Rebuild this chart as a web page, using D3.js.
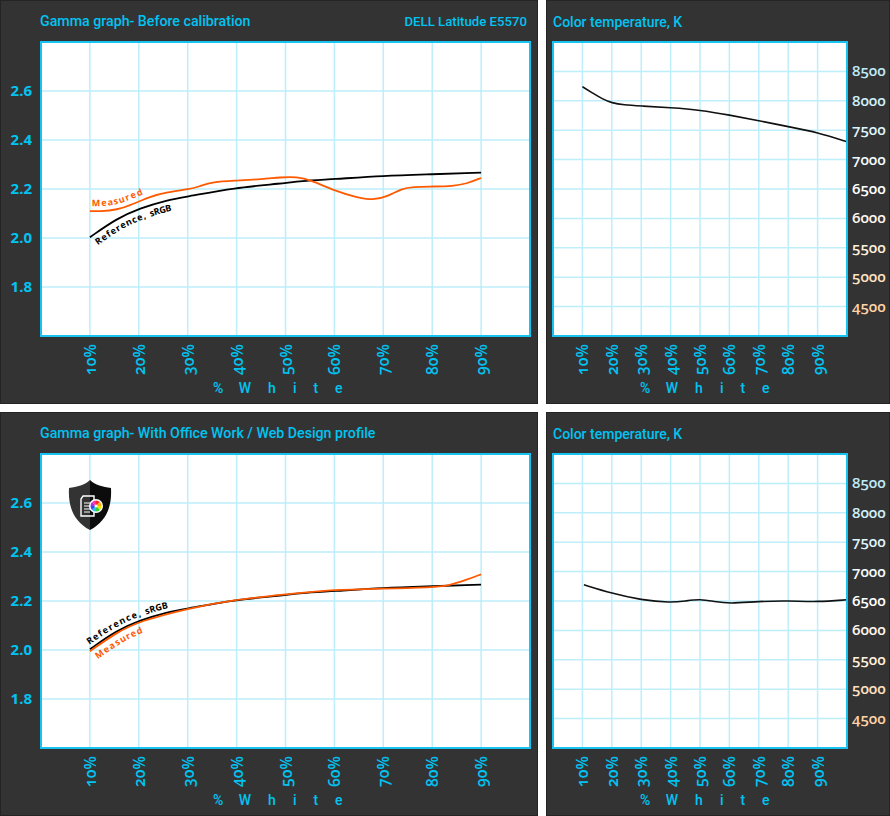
<!DOCTYPE html>
<html>
<head>
<meta charset="utf-8">
<script src="https://cdn.jsdelivr.net/npm/d3@7"></script>
<style>
  html, body { margin: 0; padding: 0; background: #fff; }
  svg { display: block; }
  text { font-family: "Open Sans", sans-serif; }
  .head { font-family: Roboto, sans-serif; }
</style>
</head>
<body>
<svg id="chart" width="890" height="816"></svg>
<script>
// values
var xTicks = [10, 20, 30, 40, 50, 60, 70, 80, 90];
var gammaTicks = [1.8, 2.0, 2.2, 2.4, 2.6];
var tempTicks = [4500, 5000, 5500, 6000, 6500, 7000, 7500, 8000, 8500];
var tempTickColors = ["#ffd2a6", "#ffe0c0", "#ffeeda", "#fff6ee", "#ffffff", "#f2fbff", "#dff5fc", "#cff0fa", "#bfeaf8"];

var refX = [10, 15.5, 20.2, 25.7, 30.5, 39.3, 49.5, 53, 59.7, 70, 80, 90];
var refGamma = [2.003, 2.08, 2.121, 2.155, 2.171, 2.204, 2.223, 2.233, 2.24, 2.254, 2.26, 2.267];

var beforeX = [10, 12, 15.5, 18.9, 22.3, 25.7, 30.5, 32.5, 35.2, 39.3, 45.4, 48.9, 52.4, 55, 60.1, 64.6, 67.9, 70.8, 73.8, 76, 80.2, 84.2, 87, 90];
var beforeGamma = [2.11, 2.109, 2.114, 2.139, 2.169, 2.187, 2.199, 2.212, 2.229, 2.234, 2.24, 2.248, 2.25, 2.237, 2.193, 2.165, 2.154, 2.169, 2.202, 2.209, 2.21, 2.212, 2.221, 2.245];

var afterX = [10, 15.5, 20.2, 30.5, 39.3, 49.5, 60, 70, 80, 83.3, 87, 90];
var afterGamma = [1.995, 2.072, 2.118, 2.172, 2.204, 2.226, 2.247, 2.25, 2.256, 2.262, 2.286, 2.309];

var beforeTempX = [10, 13.4, 16.8, 20, 24, 30, 40, 50, 60, 70, 80, 90, 100];
var beforeTemp = [8240, 8133, 8031, 7963, 7929, 7912, 7883, 7844, 7759, 7662, 7560, 7464, 7304];
var afterTempX = [10.5, 20, 30, 40, 45, 50, 55, 60, 70, 80, 90, 100];
var afterTemp = [6777, 6630, 6517, 6471, 6500, 6534, 6490, 6454, 6495, 6505, 6483, 6522];

var cyan = "#00c3f2";
var grid = "#bdeefa";
var svg = d3.select("#chart");

var line = function(xs, ys, x, y) {
  return d3.line().x(function(d) { return x(d); })
    .y(function(d, i) { return y(ys[i]); })
    .curve(d3.curveBasis)(xs);
};

function panelBg(g, x0, w) {
  g.append("rect").attr("x", x0).attr("width", w).attr("height", 404).attr("fill", "#333333");
  g.append("rect").attr("x", x0 + 0.5).attr("y", 0.5).attr("width", w - 1).attr("height", 403)
    .attr("fill", "none").attr("stroke", "#242424");
}

function frame(g, x, y, x0, x1, y0, y1, yt) {
  g.append("rect").attr("x", x0).attr("y", y0).attr("width", x1 - x0).attr("height", y1 - y0).attr("fill", "#fff");
  g.selectAll(".vg").data(xTicks).join("line").attr("class", "vg")
    .attr("x1", x).attr("x2", x).attr("y1", y0).attr("y2", y1)
    .attr("stroke", grid).attr("stroke-width", 1.5);
  g.selectAll(".hg").data(yt).join("line").attr("class", "hg")
    .attr("y1", y).attr("y2", y).attr("x1", x0).attr("x2", x1)
    .attr("stroke", grid).attr("stroke-width", 1.5);
  g.selectAll(".xl").data(xTicks).join("text").attr("class", "xl")
    .attr("transform", function(d) { return "translate(" + (x(d) + 6) + "," + (y1 + 39) + ") rotate(-90)"; })
    .attr("fill", cyan).attr("font-size", 15.5).attr("font-weight", 600)
    .style("font-variant-numeric", "oldstyle-nums")
    .text(function(d) { return d + "%"; });
}

function border(g, x0, x1, y0, y1) {
  g.append("rect").attr("x", x0).attr("y", y0).attr("width", x1 - x0).attr("height", y1 - y0)
    .attr("fill", "none").attr("stroke", "#18c2f0").attr("stroke-width", 2);
}

function whiteLabel(g, x0) {
  g.append("text").attr("class", "head").attr("x", x0).attr("y", 393).attr("fill", cyan)
    .attr("font-size", 14).attr("font-weight", 500).attr("letter-spacing", 17)
    .attr("word-spacing", -22).text("% White");
}

function curveLabel(g, id, d, text, tail, color, dy, spacing) {
  g.append("path").attr("id", id).attr("d", d).attr("fill", "none");
  var tp = g.append("text").attr("fill", color).attr("font-size", 9).attr("font-weight", 700)
    .attr("dy", dy)
    .append("textPath").attr("href", "#" + id).attr("startOffset", 2);
  tp.append("tspan").attr("letter-spacing", spacing).text(text);
  if (tail) tp.append("tspan").attr("letter-spacing", 0).text(tail);
}

function gammaPanel(top, title, xs, ys, refDy, measDy) {
  var g = svg.append("g").attr("transform", "translate(0," + top + ")");
  panelBg(g, 0, 538);
  var x = d3.scaleLinear().domain([0, 100]).range([41, 530]);
  var y = d3.scaleLinear().domain([1.6, 2.8]).range([336, 42]);
  frame(g, x, y, 41, 530, 42, 336, gammaTicks);
  g.selectAll(".yl").data(gammaTicks).join("text").attr("class", "yl")
    .attr("x", 32).attr("y", function(d) { return y(d) + 5; }).attr("text-anchor", "end")
    .attr("fill", cyan).attr("font-size", 15).attr("font-weight", 700)
    .text(function(d) { return d.toFixed(1); });
  g.append("text").attr("class", "head").attr("x", 40).attr("y", 26).attr("fill", cyan)
    .attr("font-size", 14.2).attr("font-weight", 500).text(title);
  whiteLabel(g, 213);
  var refPath = line(refX, refGamma, x, y);
  var measPath = line(xs, ys, x, y);
  g.append("path").attr("d", refPath).attr("fill", "none").attr("stroke", "#000").attr("stroke-width", 1.8);
  g.append("path").attr("d", measPath).attr("fill", "none").attr("stroke", "#ff5a00").attr("stroke-width", 1.8);
  curveLabel(g, "ref" + top, refPath, "Reference, ", "sRGB", "#000", refDy, 1.2);
  curveLabel(g, "meas" + top, measPath, "Measured", "", "#ff5a00", measDy, 1.5);
  border(g, 41, 530, 42, 336);
  return g;
}

function tempPanel(top, title, xs, ys) {
  var g = svg.append("g").attr("transform", "translate(0," + top + ")");
  panelBg(g, 546, 344);
  var x = d3.scaleLinear().domain([0, 100]).range([553, 847]);
  var y = d3.scaleLinear().domain([4000, 9000]).range([336, 42]);
  frame(g, x, y, 553, 847, 42, 336, tempTicks);
  g.selectAll(".yl").data(tempTicks).join("text").attr("class", "yl")
    .attr("x", 852).attr("y", function(d) { return y(d) + 5; })
    .attr("fill", function(d, i) { return tempTickColors[i]; }).attr("font-size", 15).attr("font-weight", 600)
    .style("font-variant-numeric", "oldstyle-nums")
    .text(function(d) { return d; });
  g.append("text").attr("class", "head").attr("x", 553).attr("y", 27).attr("fill", cyan)
    .attr("font-size", 14).attr("font-weight", 500).text(title);
  whiteLabel(g, 640);
  g.append("path").attr("d", line(xs, ys, x, y)).attr("fill", "none").attr("stroke", "#111").attr("stroke-width", 1.6);
  border(g, 553, 847, 42, 336);
  return g;
}

var topLeft = gammaPanel(0, "Gamma graph- Before calibration", beforeX, beforeGamma, 11, -5);
topLeft.append("text").attr("class", "head").attr("x", 527).attr("y", 26).attr("text-anchor", "end").attr("fill", cyan)
  .attr("font-size", 13.2).attr("font-weight", 500).text("DELL Latitude E5570");
tempPanel(0, "Color temperature, K", beforeTempX, beforeTemp);

var bottomLeft = gammaPanel(412, "Gamma graph- With Office Work / Web Design profile", afterX, afterGamma, -4, 11);
tempPanel(412, "Color temperature, K", afterTempX, afterTemp);

// shield badge, top left of the calibrated gamma plot
var badge = bottomLeft.append("g").attr("transform", "translate(90,94)");
badge.append("path").attr("d", "M0,-26 C5,-21 13,-19 21,-18 C22,0 17,15 0,24 Z").attr("fill", "#0c0c0c");
badge.append("path").attr("d", "M0,-26 C-5,-21 -13,-19 -21,-18 C-22,0 -17,15 0,24 Z").attr("fill", "#333");
badge.append("path").attr("d", "M-7,-10 L4,-10 L4,10 L-9,10 L-9,-7 Z").attr("fill", "none").attr("stroke", "#fff").attr("stroke-width", 1.4);
badge.selectAll(".doc").data([-3, 0, 3, 6]).join("line").attr("class", "doc")
  .attr("x1", -6).attr("x2", 0).attr("y1", function(d) { return d; }).attr("y2", function(d) { return d; })
  .attr("stroke", "#fff");
badge.append("circle").attr("cx", 6).attr("cy", 0).attr("r", 7).attr("fill", "#fff");
var wheel = ["#ff2a2a", "#ffb000", "#e8e800", "#30d030", "#20c8e8", "#3050f0", "#b030e0", "#ff30a0"];
var slice = d3.arc().innerRadius(1.5).outerRadius(5.5);
badge.selectAll(".wh").data(d3.pie().value(1).sort(null)(wheel)).join("path").attr("class", "wh")
  .attr("transform", "translate(6,0)").attr("d", slice)
  .attr("fill", function(d) { return d.data; });
</script>
</body>
</html>
